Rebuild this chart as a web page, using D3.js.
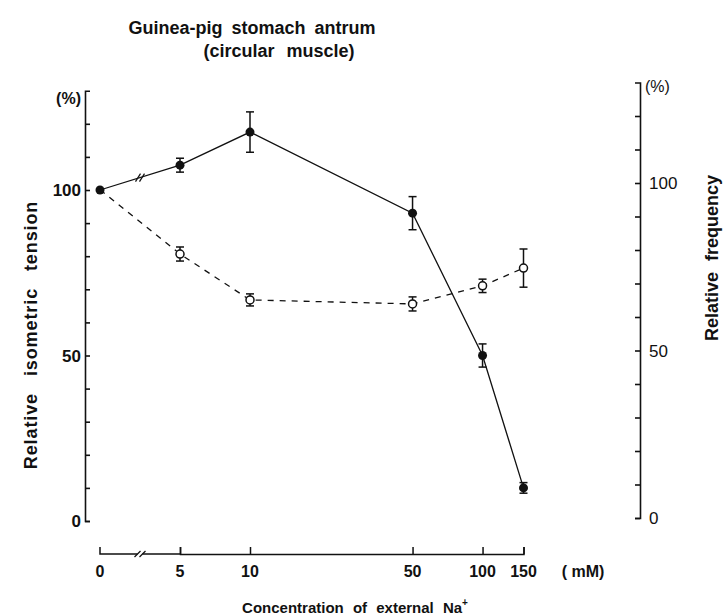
<!DOCTYPE html>
<html><head><meta charset="utf-8">
<script src="https://cdn.jsdelivr.net/npm/d3@7"></script>
<style>
body{margin:0;background:#fff}
text{font-family:"Liberation Sans",Arial,Helvetica,sans-serif;fill:#111}
</style>
</head><body><svg id="c" width="728" height="616"></svg>
<script>
// ---- data ----
const concentrations = [0, 5, 10, 50, 100, 150];
const xTickLabels = ["0", "5", "10", "50", "100", "150"];
const tension = [100, 107.5, 117.5, 93, 50, 10];
const tensionErr = [0, 2.1, 6.1, 5.0, 3.5, 1.6];
const frequency = [98, 78.8, 65.1, 63.9, 69.3, 74.6];
const frequencyErr = [0, 2.1, 1.8, 2.1, 2.0, 5.7];
const yTickLabels = [0, 50, 100];
const yMinorTicks = [0,10,20,30,40,50,60,70,80,90,100,110,120];

const svg = d3.select("#c");
const ink = "#111";

// ---- scales ----
const xLog = d3.scaleLog().domain([5, 150]).range([180, 523.5]);
const xZero = d3.scaleOrdinal().domain([0]).range([100]);
const xPos = c => c === 0 ? xZero(0) : xLog(c);
const yL = d3.scaleLinear().domain([0, 130]).range([521, 90.7]);
const yR = d3.scaleLinear().domain([0, 130]).range([518, 82.5]);
const axisLeftX = 85, axisRightX = 640, axisBottomY = 554;

// ---- title ----
const title = svg.append("g").attr("font-weight", "bold").attr("font-size", 18);
title.append("text").attr("x", 252).attr("y", 34).attr("text-anchor", "middle").attr("word-spacing", 4)
  .text("Guinea-pig stomach antrum");
title.append("text").attr("x", 279).attr("y", 57).attr("text-anchor", "middle").attr("word-spacing", 7)
  .text("(circular muscle)");

// ---- left axis ----
const gL = svg.append("g").attr("transform", `translate(${axisLeftX},0)`)
  .call(d3.axisRight(yL).tickValues(yMinorTicks).tickSize(5).tickSizeOuter(5).tickFormat(""));
gL.selectAll("path,line").attr("stroke", ink).attr("stroke-width", 1.6);
svg.append("g").attr("font-size", 17).attr("font-weight", "bold").attr("text-anchor", "end")
  .selectAll("text").data(yTickLabels).join("text")
  .attr("x", axisLeftX - 4).attr("y", d => yL(d) + 6).text(d => d);
svg.append("text").attr("x", axisLeftX - 4).attr("y", 104).attr("text-anchor", "end")
  .attr("font-size", 16).attr("font-weight", "bold").text("(%)");
svg.append("text").attr("transform", `translate(37,335) rotate(-90)`).attr("text-anchor", "middle")
  .attr("font-size", 18).attr("font-weight", "bold").attr("letter-spacing", 0.9).attr("word-spacing", 11)
  .text("Relative isometric tension");

// ---- right axis ----
const gR = svg.append("g").attr("transform", `translate(${axisRightX},0)`)
  .call(d3.axisLeft(yR).tickValues(yMinorTicks).tickSize(5).tickSizeOuter(5).tickFormat(""));
gR.selectAll("path,line").attr("stroke", ink).attr("stroke-width", 1.6);
svg.append("g").attr("font-size", 17).attr("text-anchor", "start")
  .selectAll("text").data(yTickLabels).join("text")
  .attr("x", axisRightX + 9).attr("y", d => yR(d) + 6).text(d => d);
svg.append("text").attr("x", axisRightX + 5).attr("y", 92).attr("font-size", 16).text("(%)");
svg.append("text").attr("transform", `translate(718,258) rotate(-90)`).attr("text-anchor", "middle")
  .attr("font-size", 18).attr("font-weight", "bold").attr("word-spacing", 6)
  .text("Relative frequency");

// ---- x axis ----
const gX = svg.append("g").attr("transform", `translate(0,${axisBottomY})`)
  .call(d3.axisTop(xLog).tickValues(concentrations.slice(1)).tickSize(7).tickSizeOuter(7).tickFormat(""));
gX.selectAll("path,line").attr("stroke", ink).attr("stroke-width", 1.5);
const gX0 = svg.append("g").attr("stroke", ink).attr("stroke-width", 1.5).attr("fill", "none");
gX0.append("path").attr("d", `M${xPos(0)},${axisBottomY - 7}V${axisBottomY}H${xLog(5)}`);
// axis break marks
const bx = (xPos(0) + xLog(5)) / 2;
svg.append("rect").attr("x", bx - 2.5).attr("y", axisBottomY - 2).attr("width", 5).attr("height", 4).attr("fill", "#fff");
[-2.5, 2.5].forEach(o => svg.append("line").attr("x1", bx + o - 3).attr("y1", axisBottomY + 3)
  .attr("x2", bx + o + 3).attr("y2", axisBottomY - 3).attr("stroke", ink).attr("stroke-width", 1.3));
svg.append("g").attr("font-size", 16).attr("font-weight", "bold").attr("text-anchor", "middle")
  .selectAll("text").data(concentrations).join("text")
  .attr("x", d => xPos(d)).attr("y", 577).text((d, i) => xTickLabels[i]);
svg.append("text").attr("x", 583).attr("y", 577).attr("text-anchor", "middle").attr("font-size", 16)
  .attr("font-weight", "bold").attr("xml:space", "preserve").text("( mM)");
const xl = svg.append("text").attr("x", 355).attr("y", 613).attr("text-anchor", "middle")
  .attr("font-size", 15).attr("font-weight", "bold").attr("word-spacing", 5);
xl.append("tspan").text("Concentration of external Na");
xl.append("tspan").attr("font-size", 10).attr("dy", -7).text("+");

// ---- frequency (open circles, dashed, right axis) ----
const fPts = concentrations.map((c, i) => ({x: xPos(c), y: yR(frequency[i]), v: frequency[i], e: frequencyErr[i], i}));
svg.append("path").datum(fPts).attr("fill", "none").attr("stroke", ink).attr("stroke-width", 1.3)
  .attr("stroke-dasharray", "6,6").attr("d", d3.line().x(d => d.x).y(d => d.y));
const fE = svg.append("g").attr("stroke", ink).attr("stroke-width", 1.5);
fPts.filter(d => d.i > 0).forEach(d => {
  fE.append("line").attr("x1", d.x).attr("x2", d.x).attr("y1", yR(d.v - d.e)).attr("y2", yR(d.v + d.e));
  [d.v - d.e, d.v + d.e].forEach(v => fE.append("line").attr("x1", d.x - 4).attr("x2", d.x + 4).attr("y1", yR(v)).attr("y2", yR(v)));
});
svg.append("g").selectAll("circle").data(fPts.filter(d => d.i > 0)).join("circle")
  .attr("cx", d => d.x).attr("cy", d => d.y).attr("r", 4).attr("fill", "#fff").attr("stroke", ink).attr("stroke-width", 1.5);

// ---- tension (filled circles, solid, left axis) ----
const tPts = concentrations.map((c, i) => ({x: xPos(c), y: yL(tension[i]), v: tension[i], e: tensionErr[i], i}));
svg.append("path").datum(tPts).attr("fill", "none").attr("stroke", ink).attr("stroke-width", 1.3)
  .attr("d", d3.line().x(d => d.x).y(d => d.y));
// break mark on solid line
{
  const a = tPts[0], b = tPts[1];
  const t = (bx - a.x) / (b.x - a.x);
  const by = a.y + t * (b.y - a.y);
  [-2, 2].forEach(o => svg.append("line").attr("x1", bx + o - 2.5).attr("y1", by + 4)
    .attr("x2", bx + o + 2.5).attr("y2", by - 4).attr("stroke", ink).attr("stroke-width", 1.2));
}
const tE = svg.append("g").attr("stroke", ink).attr("stroke-width", 1.5);
tPts.filter(d => d.e > 0).forEach(d => {
  tE.append("line").attr("x1", d.x).attr("x2", d.x).attr("y1", yL(d.v - d.e)).attr("y2", yL(d.v + d.e));
  [d.v - d.e, d.v + d.e].forEach(v => tE.append("line").attr("x1", d.x - 4).attr("x2", d.x + 4).attr("y1", yL(v)).attr("y2", yL(v)));
});
svg.append("g").selectAll("circle").data(tPts).join("circle")
  .attr("cx", d => d.x).attr("cy", d => d.y).attr("r", 4.5).attr("fill", ink);
</script>
</body></html>
